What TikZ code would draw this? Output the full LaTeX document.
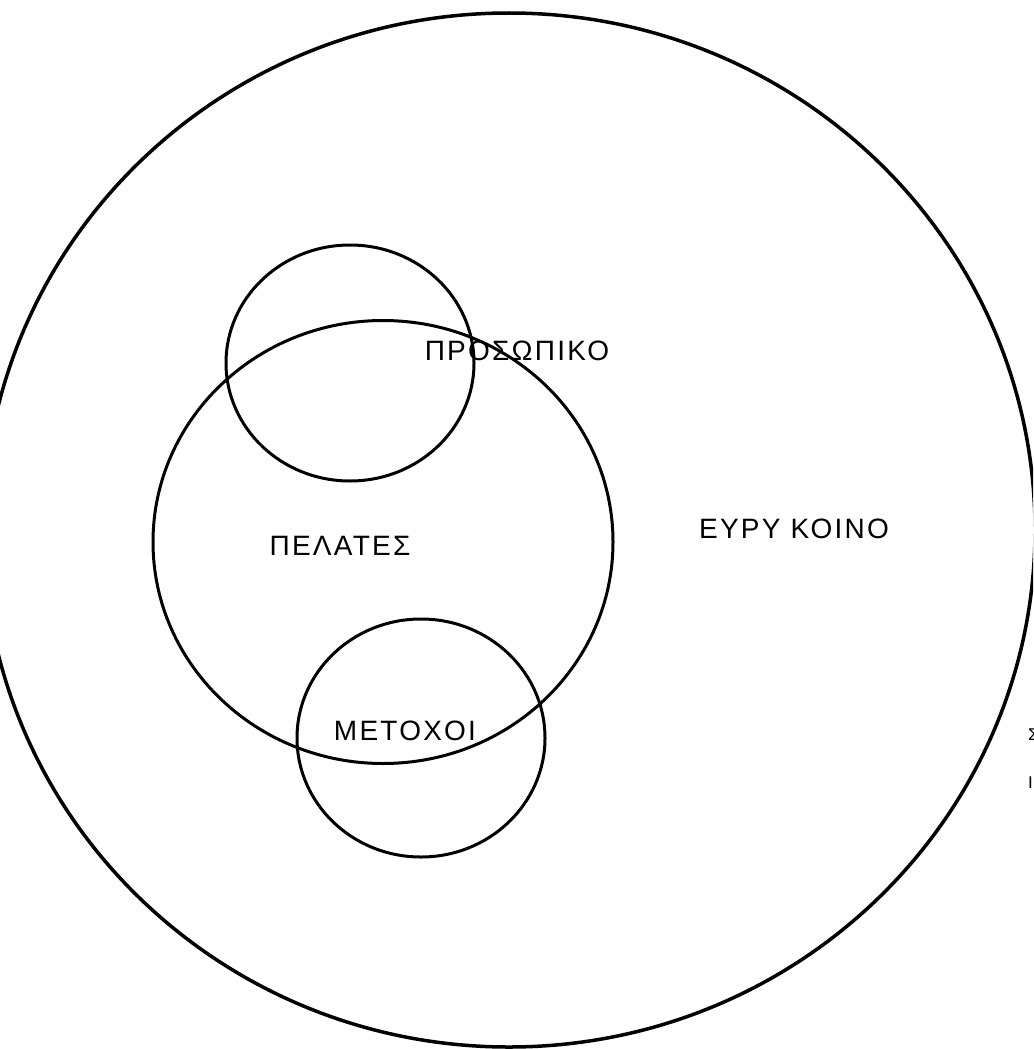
\documentclass[tikz,border=0pt]{standalone}
\usepackage{fontspec}
\newfontfamily\labfont{Liberation Sans}[LetterSpace=8]
\usetikzlibrary{shapes.geometric}
\begin{document}
\begin{tikzpicture}[x=1pt,y=-1pt,
  ring/.style={draw=black, line width=3pt, ellipse, inner sep=0pt, outer sep=0pt},
  lab/.style={font=\labfont\fontsize{28}{30}\selectfont, anchor=base, inner sep=0pt},
  frag/.style={font=\labfont\fontsize{17}{18}\selectfont, anchor=base west, inner sep=0pt}]
\path[use as bounding box, fill=white] (0,0) rectangle (1033,1049);
\clip (0,0) rectangle (1033,1049);
% outer public
\node[ring, line width=3.5pt, minimum width=1052pt, minimum height=1034pt] (public) at (509,530) {};
% clients
\node[ring, minimum width=460pt, minimum height=443pt] (clients) at (383,542) {};
% staff
\node[ring, minimum width=248pt, minimum height=236pt] (staff) at (350,363) {};
% shareholders
\node[ring, minimum width=248pt, minimum height=238pt] (holders) at (421,738) {};
% labels
\node[lab] (tstaff) at (517,360) {ΠΡΟΣΩΠΙΚΟ};
\node[lab] (tclients) at (340,555) {ΠΕΛΑΤΕΣ};
\node[lab] (tpublic) at (794,538) {ΕΥΡΥ ΚΟΙΝΟ};
\node[lab] (tholders) at (405,740) {ΜΕΤΟΧΟΙ};
% clipped fragments at the right edge
\node[frag] (f1) at (1028,740) {Σ};
\node[frag] (f2) at (1028,788) {Ι};
\end{tikzpicture}
\end{document}
